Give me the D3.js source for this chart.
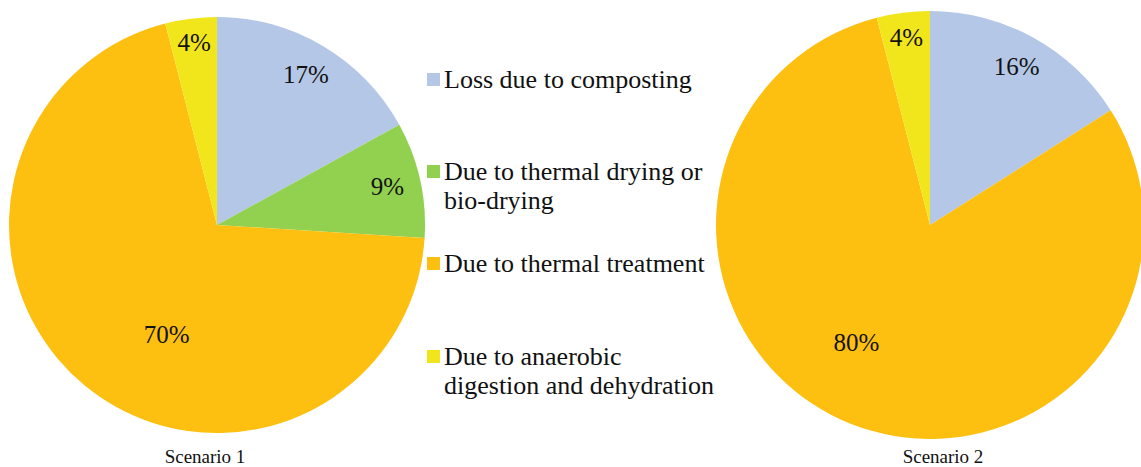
<!DOCTYPE html>
<html>
<head>
<meta charset="utf-8">
<script src="https://cdn.jsdelivr.net/npm/d3@7"></script>
</head>
<body style="margin:0">
<svg id="chart" width="1141" height="467"></svg>
<script>
// ---- data ----
const categories = [
  "Loss due to composting",
  "Due to thermal drying or bio-drying",
  "Due to thermal treatment",
  "Due to anaerobic digestion and dehydration"
];
const legendLines = [
  ["Loss due to composting"],
  ["Due to thermal drying or", "bio-drying"],
  ["Due to thermal treatment"],
  ["Due to anaerobic", "digestion and dehydration"]
];
const scenario1 = [17, 9, 70, 4];
const scenario2 = [16, 0, 80, 4];
const scenarioTitles = ["Scenario 1", "Scenario 2"];
const colors = ["#B4C7E7", "#92D050", "#FDC010", "#F1E61B"];

const FONT = "'Times New Roman', 'Liberation Serif', serif";

// ---- layout ----
const svg = d3.select("#chart");
const color = d3.scaleOrdinal().domain(categories).range(colors);

const pies = [
  { values: scenario1, cx: 217, cy: 225, r: 208, title: scenarioTitles[0], tx: 205, bigRf: 0.58, bigDA: -0.26 },
  { values: scenario2, cx: 930, cy: 225, r: 214, title: scenarioTitles[1], tx: 943, bigRf: 0.65, bigDA: 0.18 }
];

const pieGen = d3.pie().sort(null).value(d => d.v);

function labelPos(p, d, maxV) {
  let rr, ang = (d.startAngle + d.endAngle) / 2;
  if (d.data.v === maxV) { rr = p.r * p.bigRf; ang += p.bigDA; }
  else if (d.data.v < 6) { rr = p.r * 0.88; }
  else { rr = p.r * 0.84; }
  return [p.cx + Math.sin(ang) * rr, p.cy - Math.cos(ang) * rr + 8];
}

pies.forEach(p => {
  const data = categories.map((c, i) => ({ cat: c, v: p.values[i] }));
  const arcs = pieGen(data).filter(a => a.data.v > 0);
  const arc = d3.arc().innerRadius(0).outerRadius(p.r);
  svg.append("g").attr("transform", `translate(${p.cx},${p.cy})`)
    .selectAll("path").data(arcs).join("path")
    .attr("d", arc)
    .attr("fill", d => color(d.data.cat));

  const maxV = d3.max(arcs, a => a.data.v);
  arcs.forEach(d => {
    const [x, y] = labelPos(p, d, maxV);
    svg.append("text")
      .attr("x", x).attr("y", y)
      .attr("text-anchor", "middle")
      .style("font-family", FONT)
      .style("font-size", "25px")
      .style("fill", "#111")
      .text(d.data.v + "%");
  });

  svg.append("text")
    .attr("x", p.tx).attr("y", 463)
    .attr("text-anchor", "middle")
    .style("font-family", FONT)
    .style("font-size", "19px")
    .style("fill", "#111")
    .text(p.title);
});

// ---- legend ----
const legendX = 427;
const legendBaselines = [88, 180, 272, 365];
legendLines.forEach((lines, i) => {
  const y = legendBaselines[i];
  svg.append("rect")
    .attr("x", legendX).attr("y", y - 15)
    .attr("width", 13).attr("height", 13)
    .attr("fill", colors[i]);
  lines.forEach((ln, j) => {
    svg.append("text")
      .attr("x", legendX + 17).attr("y", y + j * 28.5)
      .style("font-family", FONT)
      .style("font-size", "26px")
      .style("fill", "#111")
      .text(ln);
  });
});
</script>
</body>
</html>
